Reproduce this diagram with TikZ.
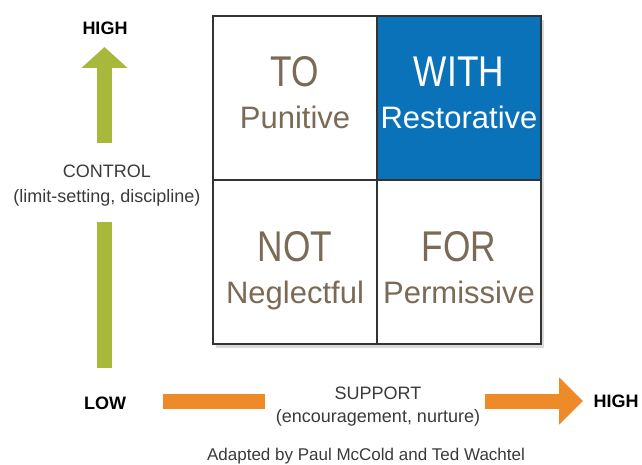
\documentclass[tikz,border=0pt]{standalone}
\usepackage{fontspec}
\setmainfont{Liberation Sans}
\newfontfamily\condfont[FakeStretch=0.82]{Liberation Sans}
\usepackage{tikz}
\usetikzlibrary{arrows.meta, positioning, shadows}

\definecolor{wordbrown}{HTML}{7A6A56}
\definecolor{withblue}{HTML}{0A72B9}
\definecolor{ctrlgreen}{HTML}{A8B83A}
\definecolor{supporange}{HTML}{EE8A28}
\definecolor{axistext}{HTML}{3A3A3A}

\tikzset{
  cell/.style={draw=black!80, line width=1.2pt, minimum width=164pt, minimum height=164pt, inner sep=0pt},
  bigword/.style={anchor=base, text=wordbrown, font=\condfont\fontsize{43}{43}\selectfont},
  smallword/.style={anchor=base, text=wordbrown, font=\fontsize{31}{31}\selectfont},
  axislabel/.style={align=center, text=axistext, font=\fontsize{18}{25}\selectfont},
  endlabel/.style={font=\bfseries\fontsize{18}{18}\selectfont},
  bar/.style={line width=15pt},
}

\begin{document}
\begin{tikzpicture}[x=1pt,y=1pt]
  \useasboundingbox (0,0) rectangle (642,464);
  % grid with shadow
  \fill[black!80, drop shadow={shadow xshift=3pt, shadow yshift=-4pt, opacity=0.3}] (213,120) rectangle (541,448);
  \node[cell, fill=white] (to) at (295,366) {};
  \node[cell, fill=withblue] (with) at (459,366) {};
  \node[cell, fill=white] (not) at (295,202) {};
  \node[cell, fill=white] (for) at (459,202) {};
  \node[bigword] (toword) at ([yshift=-71pt]to.north) {TO};
  \node[smallword] (tosub) at ([yshift=-113pt]to.north) {Punitive};
  \node[bigword, text=white] (withword) at ([yshift=-71pt]with.north) {WITH};
  \node[smallword, text=white] (withsub) at ([yshift=-113pt]with.north) {Restorative};
  \node[bigword] (notword) at ([yshift=-82pt]not.north) {NOT};
  \node[smallword] (notsub) at ([yshift=-124pt]not.north) {Neglectful};
  \node[bigword] (forword) at ([yshift=-82pt]for.north) {FOR};
  \node[smallword] (forsub) at ([yshift=-124pt]for.north) {Permissive};

  % control axis
  \coordinate (ctrl-lo) at (104.5,96);
  \coordinate (ctrl-midlo) at (104.5,242);
  \coordinate (ctrl-midhi) at (104.5,321);
  \coordinate (ctrl-hi) at (104.5,417);
  \draw[bar, ctrlgreen] (ctrl-lo) -- (ctrl-midlo);
  \draw[bar, ctrlgreen, -{Triangle[width=45pt,length=21pt]}] (ctrl-midhi) -- (ctrl-hi);
  \node[endlabel] (ctrlhigh) at (105,436) {HIGH};
  \node[axislabel] (control) at (107,278) {CONTROL\\(limit-setting, discipline)};

  % support axis
  \coordinate (supp-lo) at (163,63);
  \coordinate (supp-midlo) at (265,63);
  \coordinate (supp-midhi) at (485,63);
  \coordinate (supp-hi) at (583,63);
  \draw[bar, supporange] (supp-lo) -- (supp-midlo);
  \draw[bar, supporange, -{Triangle[width=46pt,length=24pt]}] (supp-midhi) -- (supp-hi);
  \node[endlabel] (supplow) at (105,61) {LOW};
  \node[endlabel] (supphigh) at (616,63) {HIGH};
  \node[axislabel, font=\fontsize{18}{23}\selectfont] (support) at (378,57) {SUPPORT\\(encouragement, nurture)};

  \node[anchor=base, text=axistext, font=\fontsize{17}{17}\selectfont] (credit) at (366,4) {Adapted by Paul McCold and Ted Wachtel};
\end{tikzpicture}
\end{document}
